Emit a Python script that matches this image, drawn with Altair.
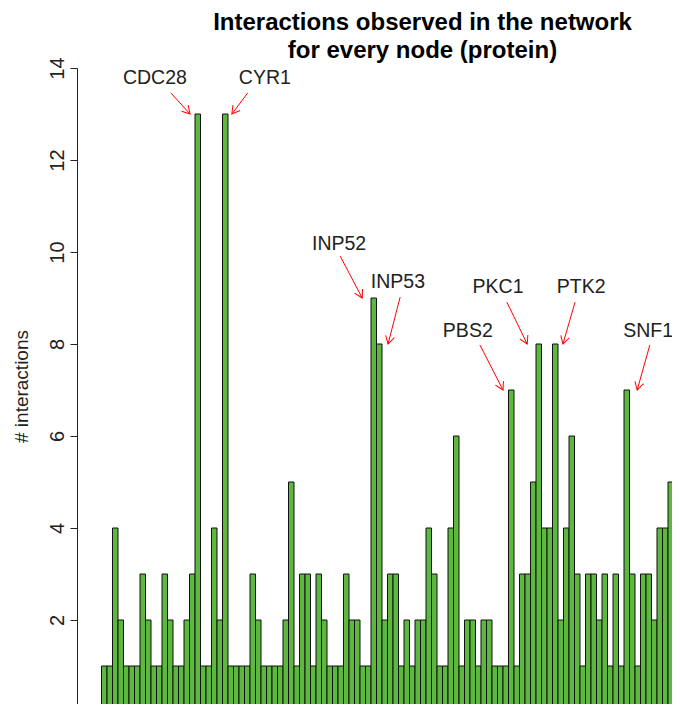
import math
import altair as alt
import pandas as pd

# ---------------- data ----------------
interactions = [
    1, 1, 4, 2, 1, 1, 1, 3, 2, 1, 1, 3, 2, 1,
    1, 2, 3, 13, 1, 1, 4, 2, 13, 1, 1, 1, 1, 3, 2,
    1, 1, 1, 1, 2, 5, 1, 3, 3, 1, 3, 2, 1, 1, 1,
    3, 2, 2, 1, 1, 9, 8, 2, 3, 3, 1, 2, 1, 2, 2,
    4, 3, 1, 1, 4, 6, 1, 2, 2, 1, 2, 2, 1, 1, 1,
    7, 1, 3, 3, 5, 8, 4, 4, 8, 2, 4, 6, 3, 1, 3,
    3, 2, 3, 1, 3, 1, 7, 3, 1, 3, 3, 2, 4, 4, 5, 1,
]

label_names = ["CDC28", "CYR1", "INP52", "INP53", "PBS2", "PKC1", "PTK2", "SNF1"]
label_nodes = [18, 23, 50, 51, 75, 80, 83, 96]          # 1-based bar index
text_x = [9.7, 29.7, 43.2, 53.9, 66.6, 72.1, 87.2, 99.4]
text_y = [13.78, 13.78, 10.17, 9.35, 8.28, 9.24, 9.24, 8.28]
tail_x = [12.6, 26.6, 43.4, 54.3, 68.8, 73.7, 86.1, 99.7]
tail_y = [13.46, 13.46, 9.91, 9.02, 7.98, 8.91, 8.91, 7.98]
tip_x = [16.1, 23.7, 47.4, 52.1, 73.0, 77.4, 83.9, 97.4]

# ---------------- layout ----------------
PAD_L, PAD_T = 69, 60
PLOT_W, PLOT_H = 595, 636
BAR_PX = 5.5
X_MIN = -(101.5 - 77) / BAR_PX
X_MAX = X_MIN + PLOT_W / BAR_PX
Y_PX = 46.0
Y_MAX = 14
Y_MIN = Y_MAX - PLOT_H / Y_PX

x_px = PLOT_W / (X_MAX - X_MIN)
y_px = PLOT_H / (Y_MAX - Y_MIN)

bars = pd.DataFrame({
    "node": list(range(1, len(interactions) + 1)),
    "interactions": interactions,
})
bars["x0"] = bars["node"] - 1
bars["x1"] = bars["node"]

tip_y = [interactions[n - 1] for n in label_nodes]
angles = []
for tx, ty, hx, hy in zip(tail_x, tail_y, tip_x, tip_y):
    ux = (hx - tx) * x_px
    uy = -(hy - ty) * y_px
    angles.append(math.degrees(math.atan2(ux, -uy)) % 360)

ann = pd.DataFrame({
    "name": label_names,
    "tx": text_x, "ty": text_y,
    "ax": tail_x, "ay": tail_y,
    "bx": tip_x, "by": tip_y,
    "angle": angles,
})

xscale = alt.Scale(domain=[X_MIN, X_MAX], nice=False, zero=False)
yscale = alt.Scale(domain=[Y_MIN, Y_MAX], nice=False, zero=False)

FONT = "Liberation Sans"
YTITLE = "# interactions"

bar_layer = alt.Chart(bars).mark_rect(
    fill="#5DB83F", stroke="#111111", strokeWidth=1, clip=True
).encode(
    x=alt.X("x0:Q", scale=xscale, axis=None),
    x2="x1:Q",
    y=alt.Y("interactions:Q", scale=yscale, title=YTITLE,
            axis=alt.Axis(values=[0, 2, 4, 6, 8, 10, 12, 14], tickSize=7,
                          labelAngle=270, labelAlign="center",
                          labelBaseline="bottom", labelPadding=3,
                          labelFontSize=20, labelFont=FONT,
                          labelColor="#222222", domainColor="#222222",
                          tickColor="#222222", grid=False,
                          titleFont=FONT,
                          titleFontSize=19, titleFontWeight="normal",
                          titleColor="#222222", titlePadding=16)),
    y2=alt.datum(0),
)

shafts = alt.Chart(ann).mark_rule(color="#FF0000", strokeWidth=1).encode(
    x=alt.X("ax:Q", scale=xscale, axis=None),
    y=alt.Y("ay:Q", scale=yscale, title=YTITLE),
    x2="bx:Q",
    y2="by:Q",
)

heads = alt.Chart(ann).mark_point(
    shape="M -0.5 0.866 L 0 0 L 0.5 0.866", filled=False,
    stroke="#FF0000", strokeWidth=1, size=324, opacity=1
).encode(
    x=alt.X("bx:Q", scale=xscale, axis=None),
    y=alt.Y("by:Q", scale=yscale, title=YTITLE),
    angle=alt.Angle("angle:Q", scale=None),
)

labels = alt.Chart(ann).mark_text(
    font=FONT, fontSize=19.5, color="#222222"
).encode(
    x=alt.X("tx:Q", scale=xscale, axis=None),
    y=alt.Y("ty:Q", scale=yscale, title=YTITLE),
    text="name:N",
)

chart = alt.layer(bar_layer, shafts, heads, labels).properties(
    width=PLOT_W, height=PLOT_H,
    autosize=alt.AutoSizeParams(type="none"),
    padding={"left": PAD_L, "top": PAD_T, "right": 0, "bottom": 0},
    title=alt.TitleParams(
        ["Interactions observed in the network", "for every node (protein)"],
        font=FONT, fontSize=24, fontWeight="bold", color="#000000",
        lineHeight=28, anchor="middle", dx=48, dy=12, offset=6,
    ),
).configure_view(strokeWidth=0)

chart.save("out.html", embed_options={"renderer": "svg", "actions": False})
